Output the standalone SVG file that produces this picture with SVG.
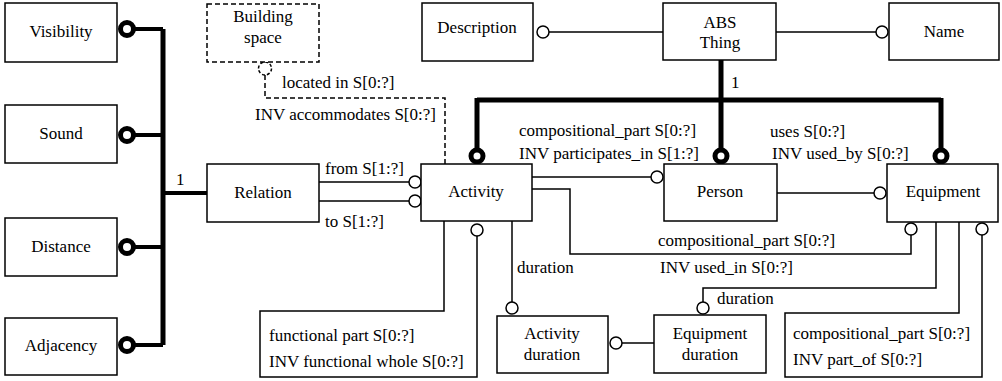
<svg xmlns="http://www.w3.org/2000/svg" width="1002" height="381" viewBox="0 0 1002 381">
  <style>
    .box { fill: #fff; stroke: #000; stroke-width: 1.5; }
    .dbox { fill: #fff; stroke: #000; stroke-width: 1.5; stroke-dasharray: 5 3; }
    text { font-family: "Liberation Serif", Tinos, "Noto Serif", FreeSerif, "Times New Roman", Times, "Nimbus Roman", "DejaVu Serif", serif; font-size: 17px; fill: #000; }
    .c { text-anchor: middle; }
    .ln { fill: none; stroke: #000; stroke-width: 1.5; }
    .dl { fill: none; stroke: #000; stroke-width: 1.5; stroke-dasharray: 5 3; }
    .thick { fill: none; stroke: #000; stroke-width: 5; }
    .med { fill: none; stroke: #000; stroke-width: 4; }
    .o { fill: #fff; stroke: #000; stroke-width: 1.5; }
    .od { fill: #fff; stroke: #000; stroke-width: 1.5; stroke-dasharray: 3 2; }
    .O { fill: #fff; stroke: #000; stroke-width: 5; }
  </style>

  <!-- connectors -->
  <g id="connectors">
    <!-- supertype tree of Relation -->
    <path class="thick" d="M163,29 V345"/>
    <path class="med" d="M133,29 H163 M133,135 H163 M133,247 H163 M133,345 H163 M163,193 H207"/>
    <circle class="O" cx="127" cy="29" r="6.5"/>
    <circle class="O" cx="127" cy="135" r="6.5"/>
    <circle class="O" cx="127" cy="247" r="6.5"/>
    <circle class="O" cx="127" cy="345" r="6.5"/>
    <text x="176" y="185">1</text>

    <!-- Relation to Activity -->
    <path class="ln" d="M319,182 H409 M319,201 H409"/>
    <circle class="o" cx="415" cy="182" r="6"/>
    <circle class="o" cx="415" cy="201" r="6"/>
    <text x="325" y="174">from S[1:?]</text>
    <text x="325" y="227">to S[1:?]</text>

    <!-- Activity located in Building space -->
    <path class="dl" d="M265,75 V98 H445 V164"/>
    <circle class="od" cx="265" cy="68.5" r="6.5"/>
    <text x="282" y="88">located in S[0:?]</text>
    <text x="255" y="120">INV accommodates S[0:?]</text>

    <!-- ABS Thing attributes -->
    <path class="ln" d="M549,32 H663 M776,32 H876"/>
    <circle class="o" cx="543" cy="32" r="6"/>
    <circle class="o" cx="882" cy="32" r="6"/>

    <!-- supertype tree of ABS Thing -->
    <path class="thick" d="M721,60 V150 M477,100 H941 M477,98 V150 M941,98 V150"/>
    <circle class="O" cx="477" cy="156" r="6"/>
    <circle class="O" cx="721" cy="156" r="6"/>
    <circle class="O" cx="941" cy="156" r="6"/>
    <text x="731" y="88">1</text>

    <!-- Activity to Person -->
    <path class="ln" d="M532,177 H651"/>
    <circle class="o" cx="657" cy="177" r="6"/>
    <text x="519" y="136">compositional_part S[0:?]</text>
    <text x="519" y="159">INV participates_in S[1:?]</text>

    <!-- Person to Equipment -->
    <path class="ln" d="M777,193 H874"/>
    <circle class="o" cx="880" cy="193" r="6"/>
    <text x="770" y="137">uses S[0:?]</text>
    <text x="772" y="159">INV used_by S[0:?]</text>

    <!-- Activity to Equipment -->
    <path class="ln" d="M532,189 H570 V254 H911 V235"/>
    <circle class="o" cx="911" cy="229" r="6"/>
    <text x="658" y="246">compositional_part S[0:?]</text>
    <text x="660" y="273">INV used_in S[0:?]</text>

    <!-- Activity duration -->
    <path class="ln" d="M512,221 V302"/>
    <circle class="o" cx="512" cy="308" r="6"/>
    <text x="517" y="273">duration</text>

    <!-- Equipment duration to Activity duration -->
    <path class="ln" d="M622,343 H654"/>
    <circle class="o" cx="616" cy="343" r="6"/>

    <!-- Equipment duration -->
    <path class="ln" d="M936,222 V288 H703 V302"/>
    <circle class="o" cx="703" cy="308" r="6"/>
    <text x="717" y="304">duration</text>

    <!-- Activity functional part (recursive) -->
    <path class="ln" d="M444,221 V311 H260 V377 H477 V236"/>
    <circle class="o" cx="477" cy="230" r="6"/>
    <text x="269" y="341">functional part S[0:?]</text>
    <text x="269" y="367">INV functional whole S[0:?]</text>

    <!-- Equipment compositional part (recursive) -->
    <path class="ln" d="M959,222 V313 H785 V377 H982 V235"/>
    <circle class="o" cx="982" cy="229" r="6"/>
    <text x="793" y="339">compositional_part S[0:?]</text>
    <text x="793" y="365">INV part_of S[0:?]</text>
  </g>

  <!-- nodes -->
  <g id="visibility">
    <rect class="box" x="5" y="3" width="112" height="59"/>
    <text class="c" x="61" y="37">Visibility</text>
  </g>
  <g id="sound">
    <rect class="box" x="5" y="105" width="112" height="58"/>
    <text class="c" x="61" y="139">Sound</text>
  </g>
  <g id="distance">
    <rect class="box" x="5" y="218" width="112" height="58"/>
    <text class="c" x="61" y="252">Distance</text>
  </g>
  <g id="adjacency">
    <rect class="box" x="5" y="318" width="112" height="57"/>
    <text class="c" x="61" y="351">Adjacency</text>
  </g>
  <g id="building-space">
    <rect class="dbox" x="207" y="4" width="112" height="58"/>
    <text class="c" x="263" y="22">Building</text>
    <text class="c" x="263" y="43">space</text>
  </g>
  <g id="relation">
    <rect class="box" x="207" y="164" width="112" height="58"/>
    <text class="c" x="263" y="198">Relation</text>
  </g>
  <g id="description">
    <rect class="box" x="422" y="3" width="111" height="58"/>
    <text class="c" x="477" y="33">Description</text>
  </g>
  <g id="abs-thing">
    <rect class="box" x="663" y="3" width="113" height="57"/>
    <text class="c" x="720" y="28">ABS</text>
    <text class="c" x="720" y="48">Thing</text>
  </g>
  <g id="name">
    <rect class="box" x="889" y="3" width="110" height="57"/>
    <text class="c" x="944" y="37">Name</text>
  </g>
  <g id="activity">
    <rect class="box" x="421" y="164" width="111" height="57"/>
    <text class="c" x="476" y="197">Activity</text>
  </g>
  <g id="person">
    <rect class="box" x="664" y="164" width="113" height="57"/>
    <text class="c" x="720" y="197">Person</text>
  </g>
  <g id="equipment">
    <rect class="box" x="887" y="164" width="111" height="58"/>
    <text class="c" x="943" y="197">Equipment</text>
  </g>
  <g id="activity-duration">
    <rect class="box" x="497" y="316" width="111" height="57"/>
    <text class="c" x="552" y="339">Activity</text>
    <text class="c" x="552" y="360">duration</text>
  </g>
  <g id="equipment-duration">
    <rect class="box" x="654" y="315" width="112" height="58"/>
    <text class="c" x="710" y="339">Equipment</text>
    <text class="c" x="710" y="360">duration</text>
  </g>
</svg>
